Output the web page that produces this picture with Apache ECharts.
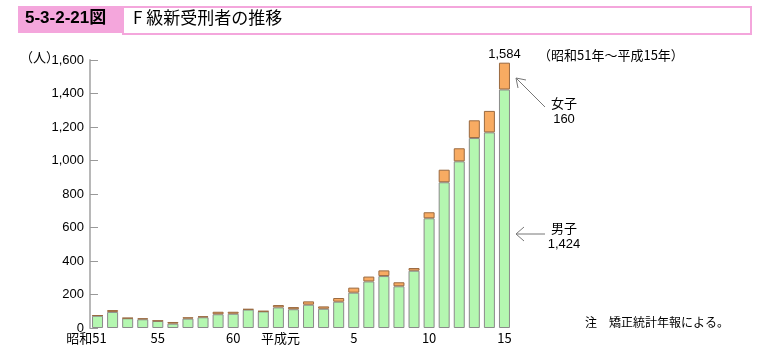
<!DOCTYPE html>
<html>
<head>
<meta charset="utf-8">
<script src="https://cdn.jsdelivr.net/npm/echarts@6/dist/echarts.min.js"></script>
<style>
  body { margin: 0; background: #fff; }
  #chart1 { width: 759px; height: 352px; }
</style>
</head>
<body>
<div id="chart1"></div>
<script>
// 昭和51年～平成15年
var years = [
  "昭和51", "52", "53", "54", "55", "56", "57", "58", "59", "60", "61", "62", "63",
  "平成元", "2", "3", "4", "5", "6", "7", "8", "9", "10", "11", "12", "13", "14", "15"
];
var shownLabels = ["昭和51", "55", "60", "平成元", "5", "10", "15"];
var male = [73, 96, 58, 52, 42, 26, 56, 64, 82, 85, 110, 99, 123, 112, 139, 115, 157, 211, 278, 310, 249, 342, 655, 870, 995, 1134, 1168, 1424];
var female = [3, 11, 2, 6, 2, 10, 8, 6, 15, 12, 3, 2, 14, 13, 20, 14, 22, 30, 29, 34, 24, 16, 36, 75, 78, 106, 128, 160];
var yTicks = [0, 200, 400, 600, 800, 1000, 1200, 1400, 1600];

var sans = "'Liberation Sans', 'Noto Sans CJK JP', sans-serif";
var jp = "'Noto Sans CJK JP', sans-serif";
var pink = "#f4a6dc";

var chartDom = document.getElementById("chart1");
var myChart = echarts.init(chartDom);

var option = {
  animation: false,
  grid: { left: 90, right: 247, top: 60, bottom: 24 },
  xAxis: {
    type: "category",
    data: years,
    axisLine: { show: false },
    axisTick: { show: false },
    axisLabel: {
      interval: 0,
      margin: 4,
      color: "#000",
      fontFamily: jp,
      fontSize: 13,
      formatter: function (v) {
        if (shownLabels.indexOf(v) < 0) return "";
        if (v === "昭和51") return "{l|" + v + "}";
        if (v === "平成元") return "{m|" + v + "}";
        return v;
      },
      rich: {
        l: { padding: [0, 22, 0, 0], fontSize: 13, fontFamily: jp, color: "#000" },
        m: { padding: [0, 26, 0, 0], fontSize: 13, fontFamily: jp, color: "#000" }
      }
    }
  },
  yAxis: {
    type: "value",
    min: 0,
    max: 1600,
    interval: 200,
    axisLine: { show: true, lineStyle: { color: "#b8b8b8", width: 2 } },
    axisTick: { show: true, inside: true, length: 8, lineStyle: { color: "#999" } },
    splitLine: { show: false },
    axisLabel: {
      color: "#000",
      fontFamily: sans,
      fontSize: 13,
      margin: 6,
      formatter: function (v) {
        return yTicks.indexOf(v) >= 0 ? v.toLocaleString("en-US") : "";
      }
    }
  },
  series: [
    {
      name: "男子",
      type: "bar",
      stack: "total",
      data: male,
      barWidth: 11,
      itemStyle: { color: "#b4f7b0", borderColor: "#8a8a8a", borderWidth: 1 }
    },
    {
      name: "女子",
      type: "bar",
      stack: "total",
      data: female,
      barWidth: 11,
      itemStyle: { color: "#f8ab62", borderColor: "#9a6a40", borderWidth: 1 },
      label: {
        show: true,
        position: "top",
        distance: 2,
        color: "#000",
        fontFamily: sans,
        fontSize: 13,
        formatter: function (p) {
          if (p.dataIndex !== years.length - 1) return "";
          return (male[p.dataIndex] + female[p.dataIndex]).toLocaleString("en-US");
        }
      }
    }
  ],
  graphic: [
    { type: "rect", left: 18, top: 6, shape: { width: 104, height: 27 }, style: { fill: pink } },
    { type: "rect", left: 122, top: 6, shape: { width: 628, height: 27 }, style: { fill: "#fff", stroke: pink, lineWidth: 2 } },
    { type: "text", left: 25, top: 10, style: { text: "5-3-2-21図", font: "bold 17px " + sans, fill: "#000" } },
    { type: "text", left: 133, top: 9, style: { text: "F 級新受刑者の推移", font: "17px " + jp, fill: "#000" } },
    { type: "text", left: 20, top: 51, style: { text: "（人）", font: "13px " + jp, fill: "#000" } },
    { type: "text", left: 538, top: 49, style: { text: "（昭和51年～平成15年）", font: "13px " + jp, fill: "#000" } },
    // 女子
    { type: "polyline", shape: { points: [[545, 107], [516, 78]] }, style: { stroke: "#777", lineWidth: 1, fill: null } },
    { type: "polyline", shape: { points: [[518, 88], [516, 78], [526, 80]] }, style: { stroke: "#777", lineWidth: 1, fill: null } },
    { type: "text", x: 564, y: 103, style: { text: "女子", font: "13px " + jp, fill: "#000", align: "center", verticalAlign: "middle" } },
    { type: "text", x: 564, y: 119, style: { text: "160", font: "13px " + sans, fill: "#000", align: "center", verticalAlign: "middle" } },
    // 男子
    { type: "polyline", shape: { points: [[545, 234], [516, 234]] }, style: { stroke: "#777", lineWidth: 1, fill: null } },
    { type: "polyline", shape: { points: [[524, 227], [516, 234], [524, 241]] }, style: { stroke: "#777", lineWidth: 1, fill: null } },
    { type: "text", x: 564, y: 228, style: { text: "男子", font: "13px " + jp, fill: "#000", align: "center", verticalAlign: "middle" } },
    { type: "text", x: 564, y: 244, style: { text: "1,424", font: "13px " + sans, fill: "#000", align: "center", verticalAlign: "middle" } },
    { type: "text", left: 585, top: 316, style: { text: "注　矯正統計年報による。", font: "12px " + jp, fill: "#000" } }
  ]
};

option && myChart.setOption(option);
</script>
</body>
</html>
